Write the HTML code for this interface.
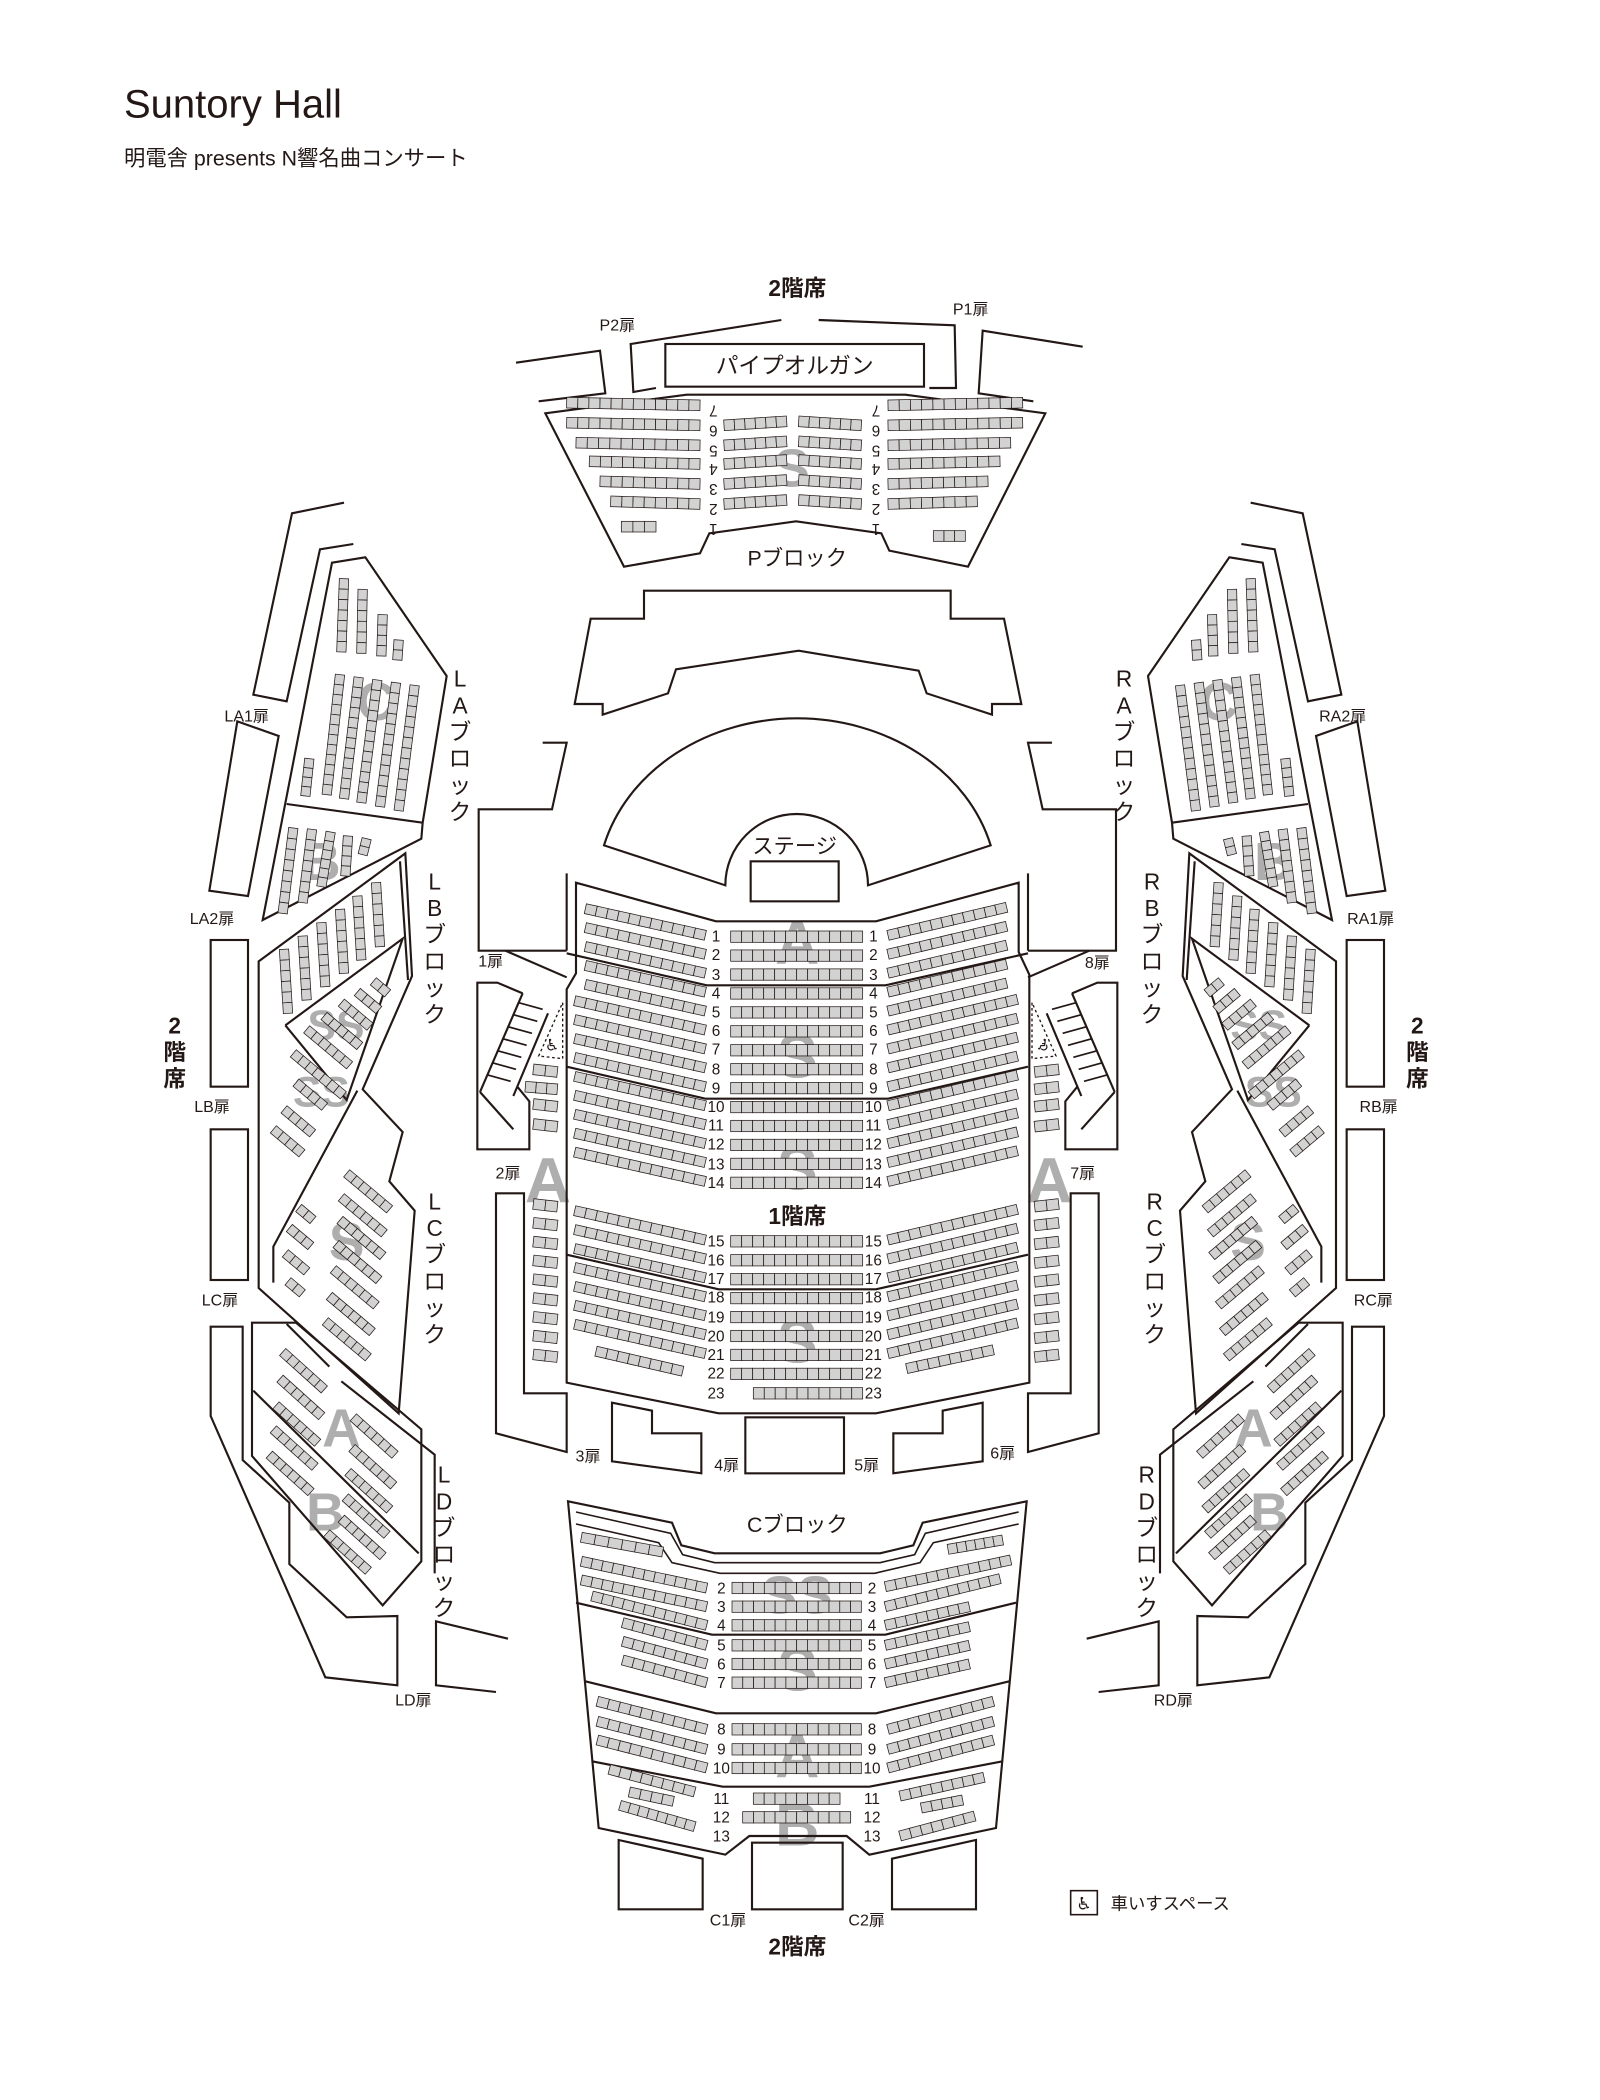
<!DOCTYPE html>
<html><head><meta charset="utf-8">
<style>
html,body{margin:0;padding:0;background:#fff;}
svg{display:block;}
text{font-family:"Liberation Sans","Noto Sans CJK JP",sans-serif;fill:#231815;}
.w{fill:none;stroke:#231815;stroke-width:1.6;stroke-linejoin:miter;}
.wf{fill:#fff;stroke:#231815;stroke-width:1.6;}
.s rect{fill:#d2d2d2;stroke:#231815;stroke-width:.55;}
.g text{fill:#9a9a9a;font-weight:bold;opacity:.8;}
.lb{font-size:12px;}
.rn{font-size:11.5px;text-anchor:middle;}
.vt{font-size:17px;text-anchor:middle;}
.wc{font-family:"DejaVu Sans",sans-serif;fill:#231815;}
</style></head>
<body>
<svg width="1600" height="2100" viewBox="0 0 1200 1575" xmlns="http://www.w3.org/2000/svg">
<rect width="1200" height="1575" fill="#fff"/>
<text x="93" y="88" style="font-size:30px;">Suntory Hall</text>
<text x="93" y="124" style="font-size:16px;">明電舎 presents N響名曲コンサート</text>

<!-- gray section letters -->
<g class="g" text-anchor="middle">
<text x="598" y="723" font-size="46">A</text>
<text x="598" y="808" font-size="46">S</text>
<text x="598" y="892" font-size="46">S</text>
<text x="598" y="1022" font-size="46">S</text>
<text x="411" y="902" font-size="48">A</text>
<text x="787" y="902" font-size="48">A</text>
<text x="598" y="1210" font-size="40">SS</text>
<text x="598" y="1268" font-size="46">S</text>
<text x="598" y="1333" font-size="46">A</text>
<text x="598" y="1384" font-size="46">B</text>
<text x="594" y="365" font-size="40">S</text>
<text x="282" y="540" font-size="40">C</text>
<text x="241" y="660" font-size="40">B</text>
<text x="252" y="780" font-size="32">SS</text>
<text x="241" y="830" font-size="32">SS</text>
<text x="260" y="945" font-size="40">S</text>
<text x="256" y="1085" font-size="40">A</text>
<text x="244" y="1148" font-size="40">B</text>
<text x="914" y="540" font-size="40">C</text>
<text x="955" y="660" font-size="40">B</text>
<text x="944" y="780" font-size="32">SS</text>
<text x="955" y="830" font-size="32">SS</text>
<text x="936" y="945" font-size="40">S</text>
<text x="940" y="1085" font-size="40">A</text>
<text x="952" y="1148" font-size="40">B</text>
</g>

<!-- top: organ & P block -->
<polyline class="w" points="387,272 450,263 454,295 404,301"/>
<polyline class="w" points="492,291 475,294 473,258 586,240"/>
<polyline class="w" points="614,240 716,244 717,291 697,291"/>
<polyline class="w" points="812,260 737,248 734,295 775,301"/>
<rect class="w" x="499" y="258" width="194" height="32"/>
<text x="596" y="280" font-size="17" text-anchor="middle">パイプオルガン</text>
<polygon class="w" points="409,310 515,296 679,296 784,310 726,425 667,413 661,400 597,391 532,400 525,415 468,425"/>
<text x="598" y="424" font-size="16" text-anchor="middle">Pブロック</text>
<text x="598" y="222" font-size="17" font-weight="bold" text-anchor="middle">2階席</text>
<text x="463" y="248" class="lb" text-anchor="middle">P2扉</text>
<text x="728" y="236" class="lb" text-anchor="middle">P1扉</text>

<!-- stage -->
<polygon class="w" points="483,443 713,443 713,464 753,464 766,528 744,528 744,536 695,520 689,503 599,488 507,502 501,520 452,536 452,528 431,528 443,464 483,464"/>
<path class="w" d="M453,634 A150,128 0 0 1 743,634 L651,664 A52,52 0 0 0 544,664 Z"/>
<text x="596" y="640" font-size="16" text-anchor="middle">ステージ</text>
<rect class="w" x="563" y="646" width="66" height="30"/>

<!-- central walls left + mirrored -->
<g id="cw">
<polyline class="w" points="407,557 425,557 414,607 359,607 359,713 425,713"/>
<line class="w" x1="379" y1="713" x2="425" y2="733"/>
<line class="w" x1="425" y1="655" x2="425" y2="713"/>
<polyline class="w" points="392,745 373,737 358,737 358,862 397,862 397,826 388,815"/>
<line class="w" x1="392" y1="745" x2="360" y2="819"/>
<line class="w" x1="411" y1="760" x2="385" y2="822"/>
<g class="w" style="stroke-width:1.3">
<line x1="389" y1="752" x2="407" y2="757"/><line x1="385" y1="761" x2="403" y2="766"/><line x1="381" y1="770" x2="399" y2="775"/><line x1="377" y1="779" x2="395" y2="784"/><line x1="373" y1="788" x2="391" y2="793"/><line x1="369" y1="797" x2="387" y2="802"/><line x1="365" y1="806" x2="383" y2="811"/>
</g>
<line class="w" x1="360" y1="819" x2="385" y2="847"/>
<polygon points="422,752 422,794 404,792" fill="none" stroke="#231815" stroke-width="1" stroke-dasharray="2,2"/>
<text x="414" y="788" font-size="12" text-anchor="middle" class="wc">&#9855;</text>
<polygon class="w" points="372,895 393,895 393,1045 425,1045 425,1089 372,1075"/>
<polygon class="w" points="459,1052 489,1058 489,1075 526,1075 526,1105 459,1096"/>
</g>
<use href="#cw" transform="translate(1196,0) scale(-1,1)"/>
<rect class="w" x="559" y="1063" width="74" height="42"/>
<!-- floor -->
<polygon class="w" points="432,662 537,691 657,691 764,662 764,714 772,731 772,1037 657,1060 539,1060 425,1037 425,742 432,730"/>
<polyline class="w" points="425,715 530,739 664,739 771,715"/>
<polyline class="w" points="425,800 529,824 666,824 771,800"/>
<polyline class="w" points="425,941 539,967 657,967 771,941"/>
<text x="598" y="918" font-size="17" font-weight="bold" text-anchor="middle">1階席</text>
<text x="368" y="725" class="lb" text-anchor="middle">1扉</text>
<text x="823" y="726" class="lb" text-anchor="middle">8扉</text>
<text x="381" y="884" class="lb" text-anchor="middle">2扉</text>
<text x="812" y="884" class="lb" text-anchor="middle">7扉</text>
<text x="441" y="1096" class="lb" text-anchor="middle">3扉</text>
<text x="545" y="1103" class="lb" text-anchor="middle">4扉</text>
<text x="650" y="1103" class="lb" text-anchor="middle">5扉</text>
<text x="752" y="1094" class="lb" text-anchor="middle">6扉</text>

<!-- C block -->
<polygon class="w" points="426,1126 504,1142 511,1159 536,1165 660,1165 685,1159 692,1142 770,1126 747,1371 652,1391 635,1377 562,1377 544,1391 449,1371"/>
<polyline class="w" style="stroke-width:1.2" points="432,1134 503,1150 512,1166 536,1172 660,1172 686,1166 694,1150 764,1134"/>
<polyline class="w" style="stroke-width:1.2" points="432,1143 494,1157 504,1172 540,1180 656,1180 690,1172 700,1157 764,1143"/>
<polyline class="w" points="432,1202 534,1226 664,1226 762,1202"/>
<polyline class="w" points="439,1261 537,1285 657,1285 757,1261"/>
<polyline class="w" points="444,1321 542,1340 652,1340 752,1321"/>
<text x="598" y="1149" font-size="16" text-anchor="middle">Cブロック</text>
<polygon class="w" points="464,1380 527,1394 527,1432 464,1432"/>
<rect class="w" x="564" y="1382" width="68" height="50"/>
<polygon class="w" points="669,1394 732,1380 732,1432 669,1432"/>
<text x="546" y="1444" class="lb" text-anchor="middle">C1扉</text>
<text x="650" y="1444" class="lb" text-anchor="middle">C2扉</text>
<text x="598" y="1466" font-size="17" font-weight="bold" text-anchor="middle">2階席</text>

<!-- legend -->
<rect x="803" y="1418" width="20" height="18" fill="none" stroke="#231815" stroke-width="1.2"/>
<text x="813" y="1432" font-size="13" text-anchor="middle" class="wc">&#9855;</text>
<text x="833" y="1432" font-size="13">車いすスペース</text>

<!-- left gallery + mirrored -->
<g id="gal">
<polyline class="w" points="258,377 219,385 190,521 215,526 240,412 265,408"/>
<polygon class="w" points="178,541 209,552 186,672 157,668"/>
<rect class="w" x="158" y="705" width="28" height="110"/>
<rect class="w" x="158" y="847" width="28" height="113"/>
<polygon class="w" points="249,422 274,418 335,507 317,617 316,629 197,690"/>
<line class="w" x1="215" y1="603" x2="317" y2="617"/>
<polygon class="w" points="194,721 304,640 309,732 272,817 302,849 292,886 311,908 299,1060 194,966"/>
<line class="w" x1="300" y1="646" x2="306" y2="735"/>
<polyline class="w" points="214,769 302,704 260,825 214,769"/>
<polyline class="w" points="268,818 205,935 205,962"/>
<polygon class="w" points="158,995 182,995 182,1095 217,1127 217,1173 260,1213 298,1212 298,1264 244,1258 158,1062"/>
<polygon class="w" points="189,992 222,992 316,1072 316,1171 287,1204 189,1092"/>
<line class="w" x1="215" y1="993" x2="247" y2="1025"/>
<polyline class="w" points="256,1036 326,1091 326,1180"/>
<line class="w" x1="190" y1="1043" x2="314" y2="1165"/>
<polyline class="w" points="381,1229 327,1216 327,1264 372,1269"/>
<g id="gs" class="s"></g>
</g>
<use href="#gal" transform="translate(1196,0) scale(-1,1)"/>

<g id="ms" class="s"></g>

<!-- gallery labels -->
<g class="lb" text-anchor="middle">
<text x="185" y="541">LA1扉</text>
<text x="159" y="693">LA2扉</text>
<text x="159" y="834">LB扉</text>
<text x="165" y="979">LC扉</text>
<text x="310" y="1279">LD扉</text>
<text x="1007" y="541">RA2扉</text>
<text x="1028" y="693">RA1扉</text>
<text x="1034" y="834">RB扉</text>
<text x="1030" y="979">RC扉</text>
<text x="880" y="1279">RD扉</text>
</g>
<g font-size="17" font-weight="bold" text-anchor="middle">
<text x="131" y="775">2</text><text x="131" y="795">階</text><text x="131" y="815">席</text>
<text x="1063" y="775">2</text><text x="1063" y="795">階</text><text x="1063" y="815">席</text>
</g>
<g class="vt">
<text x="345" y="515">L</text><text x="345" y="535">A</text><text x="345" y="555">ブ</text><text x="345" y="575">ロ</text><text x="345" y="595">ッ</text><text x="345" y="615">ク</text>
<text x="326" y="667">L</text><text x="326" y="687">B</text><text x="326" y="707">ブ</text><text x="326" y="727">ロ</text><text x="326" y="747">ッ</text><text x="326" y="767">ク</text>
<text x="326" y="907">L</text><text x="326" y="927">C</text><text x="326" y="947">ブ</text><text x="326" y="967">ロ</text><text x="326" y="987">ッ</text><text x="326" y="1007">ク</text>
<text x="333" y="1112">L</text><text x="333" y="1132">D</text><text x="333" y="1152">ブ</text><text x="333" y="1172">ロ</text><text x="333" y="1192">ッ</text><text x="333" y="1212">ク</text>
<text x="843" y="515">R</text><text x="843" y="535">A</text><text x="843" y="555">ブ</text><text x="843" y="575">ロ</text><text x="843" y="595">ッ</text><text x="843" y="615">ク</text>
<text x="864" y="667">R</text><text x="864" y="687">B</text><text x="864" y="707">ブ</text><text x="864" y="727">ロ</text><text x="864" y="747">ッ</text><text x="864" y="767">ク</text>
<text x="866" y="907">R</text><text x="866" y="927">C</text><text x="866" y="947">ブ</text><text x="866" y="967">ロ</text><text x="866" y="987">ッ</text><text x="866" y="1007">ク</text>
<text x="860" y="1112">R</text><text x="860" y="1132">D</text><text x="860" y="1152">ブ</text><text x="860" y="1172">ロ</text><text x="860" y="1192">ッ</text><text x="860" y="1212">ク</text>
</g>

<!-- main floor row numbers -->
<g class="rn">
<text x="537" y="706">1</text><text x="655" y="706">1</text>
<text x="537" y="720">2</text><text x="655" y="720">2</text>
<text x="537" y="735">3</text><text x="655" y="735">3</text>
<text x="537" y="749">4</text><text x="655" y="749">4</text>
<text x="537" y="763">5</text><text x="655" y="763">5</text>
<text x="537" y="777">6</text><text x="655" y="777">6</text>
<text x="537" y="791">7</text><text x="655" y="791">7</text>
<text x="537" y="806">8</text><text x="655" y="806">8</text>
<text x="537" y="820">9</text><text x="655" y="820">9</text>
<text x="537" y="834">10</text><text x="655" y="834">10</text>
<text x="537" y="848">11</text><text x="655" y="848">11</text>
<text x="537" y="862">12</text><text x="655" y="862">12</text>
<text x="537" y="877">13</text><text x="655" y="877">13</text>
<text x="537" y="891">14</text><text x="655" y="891">14</text>
<text x="537" y="935">15</text><text x="655" y="935">15</text>
<text x="537" y="949">16</text><text x="655" y="949">16</text>
<text x="537" y="963">17</text><text x="655" y="963">17</text>
<text x="537" y="977">18</text><text x="655" y="977">18</text>
<text x="537" y="992">19</text><text x="655" y="992">19</text>
<text x="537" y="1006">20</text><text x="655" y="1006">20</text>
<text x="537" y="1020">21</text><text x="655" y="1020">21</text>
<text x="537" y="1034">22</text><text x="655" y="1034">22</text>
<text x="537" y="1049">23</text><text x="655" y="1049">23</text>
<text x="541" y="1195">2</text><text x="654" y="1195">2</text>
<text x="541" y="1209">3</text><text x="654" y="1209">3</text>
<text x="541" y="1223">4</text><text x="654" y="1223">4</text>
<text x="541" y="1238">5</text><text x="654" y="1238">5</text>
<text x="541" y="1252">6</text><text x="654" y="1252">6</text>
<text x="541" y="1266">7</text><text x="654" y="1266">7</text>
<text x="541" y="1301">8</text><text x="654" y="1301">8</text>
<text x="541" y="1316">9</text><text x="654" y="1316">9</text>
<text x="541" y="1330">10</text><text x="654" y="1330">10</text>
<text x="541" y="1353">11</text><text x="654" y="1353">11</text>
<text x="541" y="1367">12</text><text x="654" y="1367">12</text>
<text x="541" y="1381">13</text><text x="654" y="1381">13</text>
</g>
<g class="rn">
<text transform="translate(535,393) rotate(180)">1</text><text transform="translate(657,393) rotate(180)">1</text>
<text transform="translate(535,378) rotate(180)">2</text><text transform="translate(657,378) rotate(180)">2</text>
<text transform="translate(535,363) rotate(180)">3</text><text transform="translate(657,363) rotate(180)">3</text>
<text transform="translate(535,348) rotate(180)">4</text><text transform="translate(657,348) rotate(180)">4</text>
<text transform="translate(535,334) rotate(180)">5</text><text transform="translate(657,334) rotate(180)">5</text>
<text transform="translate(535,319) rotate(180)">6</text><text transform="translate(657,319) rotate(180)">6</text>
<text transform="translate(535,304) rotate(180)">7</text><text transform="translate(657,304) rotate(180)">7</text>
</g>
</svg>
<script>
function row(x1,y1,x2,y2,n,h){h=h||7.5;var dx=x2-x1,dy=y2-y1,L=Math.hypot(dx,dy),a=Math.atan2(dy,dx)*180/Math.PI,w=L/n;
var s='<g transform="translate('+x1+','+y1+') rotate('+a+')">';for(var i=0;i<n;i++)s+='<rect x="'+(i*w).toFixed(2)+'" y="'+(-h/2)+'" width="'+w.toFixed(2)+'" height="'+h+'"/>';return s+'</g>';}
function dirRow(x,y,ang,n,sz){var r=ang*Math.PI/180;return row(x,y,x+Math.cos(r)*n*sz,y+Math.sin(r)*n*sz,n,sz);}
var m='';
for(var i=1;i<=14;i++){var y=702.5+14.2*(i-1);m+=row(548,y,647,y,12,8.5);
 if(i<=5){m+=row(439,y-21,529,y-1,11);m+=row(666,y-1,755,y-22,11);}else{m+=row(431,y-23,529,y-1,12);m+=row(666,y-1,763,y-24,12);}}
for(var i=15;i<=22;i++){var y=931+14.2*(i-15);m+=row(548,y,647,y,12,8.5);
 if(i<22){m+=row(431,y-23,529,y-1,12);m+=row(666,y-1,763,y-24,12);}else{m+=row(447,y-17,512,y-2,8);m+=row(680,y-4,745,y-18,8);}}
m+=row(565,1045,647,1045,10,8.5);
var sy=[802,815,828,843];for(var k=0;k<4;k++){m+=row(k==1?394:400,sy[k],418,sy[k]+2,k==1?3:2,8);m+=row(776,sy[k]+2,794,sy[k],2,8);}
for(var k=0;k<9;k++){var y=903+14.1*k;m+=row(400,y,418,y+2,2,8);m+=row(776,y+2,794,y,2,8);}
var cy=[0,1161,1191,1205,1219,1234,1248,1262,1297,1312,1326,1349,1363,1377];
for(var r=2;r<=10;r++)m+=row(549,cy[r],646,cy[r],12,8.5);
m+=row(565,1349,630,1349,8,8.5);m+=row(557,1363,638,1363,10,8.5);
m+=row(436,1153,497,1164,6);m+=row(436,1171,530,1191,12);m+=row(436,1185,530,1205,12);m+=row(444,1197,530,1219,11);
for(var r=5;r<=7;r++)m+=row(467,cy[r]-17,530,cy[r],8);
for(var r=8;r<=10;r++)m+=row(448,cy[r]-21,530,cy[r],10);
m+=row(457,1327,521,1344,8);m+=row(472,1344,505,1351,4);m+=row(465,1354,521,1370,8);
m+=row(711,1162,752,1155,6);m+=row(664,1190,758,1170,12);m+=row(664,1205,750,1184,11);
for(var r=4;r<=7;r++)m+=row(664,cy[r],727,cy[r]-14,8);
for(var r=8;r<=10;r++)m+=row(666,cy[r],745,cy[r]-21,10);
m+=row(675,1347,738,1333,8);m+=row(691,1356,722,1350,4);m+=row(675,1377,731,1362,7);
var py=[0,396,381,366,351,337,322,307];var pl=[0,0,458,450,442,432,425,425],pn=[0,0,8,9,10,11,12,12];
var pr=[0,0,733,741,750,758,767,767];
for(var r=2;r<=7;r++){m+=row(pl[r],py[r]-5,525,py[r]-3,pn[r],8);m+=row(666,py[r]-3,pr[r],py[r]-5,pn[r],8);}
m+=row(466,395,492,395,3,8);m+=row(700,402,724,402,3,8);
for(var r=2;r<=6;r++){var y=py[r]-3;m+=row(543,y,590,y-3,6,8);m+=row(599,y-3,646,y,6,8);}
document.getElementById('ms').innerHTML=m;
var g='';
g+=row(258,434,256,489,7,7);g+=row(272,442,271,490,6,7);g+=row(287,461,286,492,4,7);g+=row(299,480,298,495,2,7);
var tx=[255,269,283,297,311],bx=[245,258,271,285,299];
for(var k=0;k<5;k++)g+=row(tx[k],506+k*2,bx[k],596+k*3,12,7);
g+=row(232,569,229,597,4,7);
g+=row(275,629,272,641,2,7);g+=row(261,627,259,657,4,7);g+=row(248,624,241,665,6,7);g+=row(234,622,227,677,7,7);g+=row(220,621,212,685,8,7);
var lx=[282,268,255,241,227,213];
for(var k=0;k<6;k++)g+=row(lx[k],662+k*10,lx[k]+3,710+k*10,6,7);
var ss=[[280,736,2],[268,744,3],[256,752,4],[243,762,5],[230,772,6],[220,790,7],[222,812,4],[213,832,4],[205,847,4]];
for(var k=0;k<ss.length;k++)g+=dirRow(ss[k][0],ss[k][1],40,ss[k][2],7);
var lc=[[260,880],[256,898],[255,915],[252,933],[250,952],[247,972],[244,991]];
for(var k=0;k<7;k++)g+=dirRow(lc[k][0],lc[k][1],40,6,7);
g+=dirRow(224,906,40,2,7);g+=dirRow(217,921,40,3,7);g+=dirRow(214,940,40,3,7);g+=dirRow(216,961,40,2,7);
var ld=[[212,1014],[210,1034],[207,1054],[205,1072],[202,1091]];
for(var k=0;k<5;k++)g+=dirRow(ld[k][0],ld[k][1],42,6,7);
var ld2=[[265,1063],[264,1086],[261,1104],[259,1123],[256,1139],[245,1150]];
for(var k=0;k<6;k++)g+=dirRow(ld2[k][0],ld2[k][1],42,6,7);
document.getElementById('gs').innerHTML=g;
</script>
</body></html>
